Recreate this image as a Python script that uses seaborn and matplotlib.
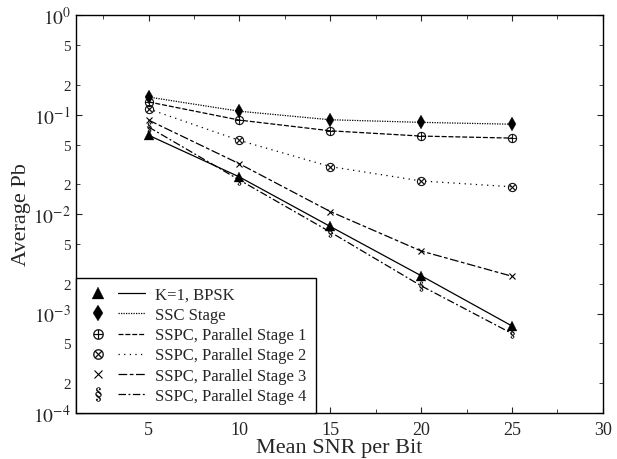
import numpy as np
import pandas as pd
import matplotlib
matplotlib.use("Agg")
import matplotlib.pyplot as plt
import seaborn as sns
from matplotlib.lines import Line2D
from matplotlib.legend_handler import HandlerTuple
from matplotlib.ticker import LogLocator, FuncFormatter, MultipleLocator

# data
snr = [5, 10, 15, 20, 25]
bpsk = [0.062, 0.0236, 0.0075, 0.0024, 0.00075]
ssc = [0.150, 0.108, 0.0887, 0.0835, 0.080]
stage1 = [0.134, 0.088, 0.0687, 0.0608, 0.058]
stage2 = [0.114, 0.055, 0.030, 0.0215, 0.0188]
stage3 = [0.088, 0.032, 0.0106, 0.00425, 0.00237]
stage4 = [0.075, 0.022, 0.0066, 0.0019, 0.00063]

labels = ["K=1, BPSK", "SSC Stage", "SSPC, Parallel Stage 1",
          "SSPC, Parallel Stage 2", "SSPC, Parallel Stage 3", "SSPC, Parallel Stage 4"]
series = [bpsk, ssc, stage1, stage2, stage3, stage4]

styles = [
    dict(marker="^", ms=7, ls="-"),
    dict(marker="d", ms=7.5, ls=(0, (1, 1))),
    dict(marker=r"$\oplus$", ms=6.5, ls=(0, (4, 1.5))),
    dict(marker=r"$\otimes$", ms=6.5, ls=(0, (1, 3.5))),
    dict(marker="x", ms=5, ls=(0, (7, 2, 3, 2))),
    dict(marker=r"$\S$", ms=7, ls=(0, (6, 2, 1.5, 2))),
]

sns.set_style("ticks")
plt.rcParams["font.family"] = ["Liberation Serif", "DejaVu Serif"]
plt.rcParams["mathtext.fontset"] = "stix"
plt.rcParams["xtick.direction"] = "in"
plt.rcParams["ytick.direction"] = "in"

fig = plt.figure(figsize=(6.17, 4.6), dpi=100)
ax = fig.add_axes([0.123, 0.1, 0.854, 0.865])

for vals, lab, st in zip(series, labels, styles):
    df = pd.DataFrame({"snr": snr, "pb": vals})
    sns.lineplot(data=df, x="snr", y="pb", ax=ax, color="black", lw=0.9,
                 linestyle=st["ls"], marker=st["marker"], markersize=st["ms"],
                 markeredgecolor="black", markerfacecolor="black",
                 markeredgewidth=0.8 if st["marker"] == "x" else 0.2)

ax.set_yscale("log")
ax.set_xlim(1, 30)
ax.set_ylim(1e-4, 1)
ax.xaxis.set_major_locator(MultipleLocator(5))
ax.xaxis.set_minor_locator(MultipleLocator(2.5))
ax.yaxis.set_major_locator(LogLocator(base=10, numticks=10))
ax.yaxis.set_major_formatter(FuncFormatter(lambda v, p: r"$10^{%d}$" % round(np.log10(v))))
ax.yaxis.set_minor_locator(LogLocator(base=10, subs=(2, 5), numticks=10))
ax.yaxis.set_minor_formatter(FuncFormatter(lambda v, p: "%d" % round(v / 10 ** np.floor(np.log10(v) + 1e-9))))
ax.tick_params(axis="both", which="both", top=True, right=True)
ax.tick_params(axis="x", which="major", labelsize=13, length=4, pad=6)
ax.tick_params(axis="x", which="minor", length=3)
ax.tick_params(axis="y", which="major", labelsize=14, length=4)
ax.tick_params(axis="y", which="minor", labelsize=11, length=3)
for s in ax.spines.values():
    s.set_linewidth(1.0)
    s.set_color("black")

ax.set_xlabel("Mean SNR per Bit", fontsize=16, labelpad=0)
ax.set_ylabel("Average Pb", fontsize=16, labelpad=2)

handles = []
for st in styles:
    size = st["ms"] + (3 if st["marker"] == r"$\S$" else 1)
    mk = Line2D([], [], color="black", ls="none", marker=st["marker"],
                markersize=size, markerfacecolor="black",
                markeredgewidth=0.8 if st["marker"] == "x" else 0.2)
    ln = Line2D([], [], color="black", lw=0.9, linestyle=st["ls"])
    handles.append((mk, ln))

leg = ax.legend(handles, labels, loc="lower left", borderaxespad=0,
                handler_map={tuple: HandlerTuple(ndivide=None, pad=0.4)},
                handlelength=3.6, handletextpad=0.6, labelspacing=0.25,
                fontsize=12, fancybox=False, framealpha=1, edgecolor="black",
                borderpad=0.55)
leg.get_frame().set_linewidth(1.0)

fig.savefig("out.png", dpi=100)
